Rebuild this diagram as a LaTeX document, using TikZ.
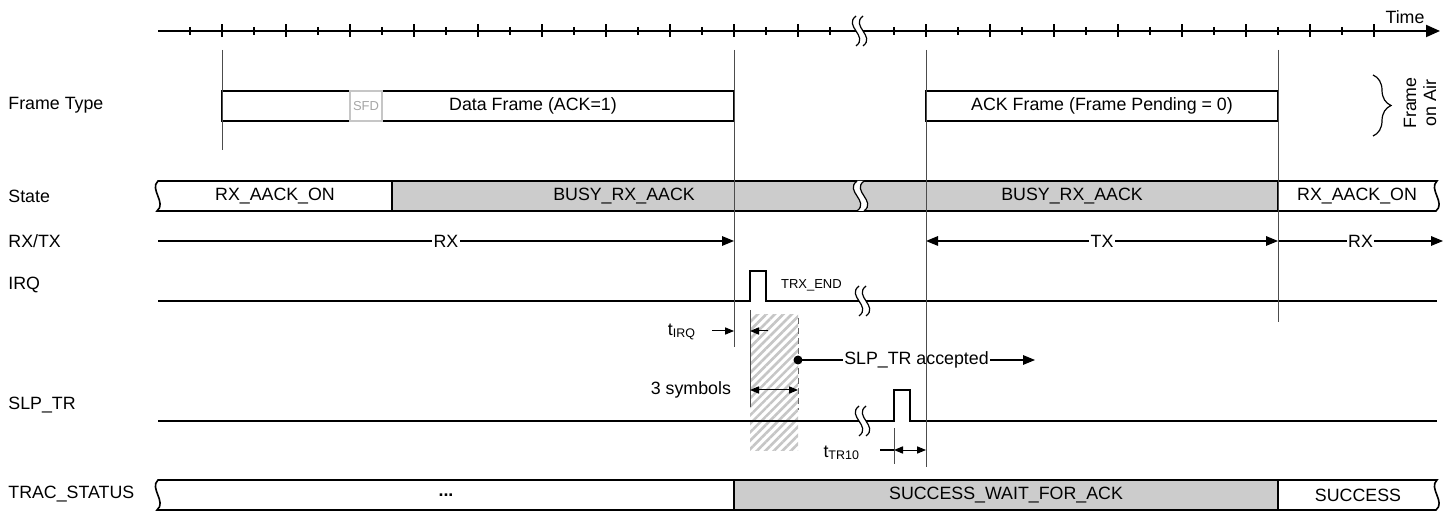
\documentclass[tikz,border=0pt]{standalone}
\usepackage{fontspec}
\setmainfont{Liberation Sans}
\usetikzlibrary{arrows.meta,patterns.meta,decorations.pathreplacing}
\tikzset{
  fnt/.style      = {font=\fontsize{8.9}{10}\selectfont},
  fntsmall/.style = {font=\fontsize{6.5}{7.5}\selectfont},
  rowlabel/.style = {fnt,anchor=west,inner sep=0pt},
  boxline/.style  = {line width=0.8pt},
  graybox/.style  = {boxline,fill=gray!40},
  wire/.style     = {line width=0.6pt},
  marker/.style   = {line width=0.5pt,black!70},
  bigarr/.style   = {-{Triangle[length=6pt,width=4.8pt]},line width=0.6pt},
  dblarr/.style   = {{Triangle[length=6pt,width=4.8pt]}-{Triangle[length=6pt,width=4.8pt]},line width=0.6pt},
  dimarr/.style   = {-{Triangle[length=4.5pt,width=3.6pt]},line width=0.5pt},
  dimdbl/.style   = {{Triangle[length=4.5pt,width=3.6pt]}-{Triangle[length=4.5pt,width=3.6pt]},line width=0.5pt},
  onwire/.style   = {fnt,fill=white,inner sep=0.6pt},
  brk/.pic = {
    \fill[white] (-2,-15) .. controls (-15,-5) and (11,5) .. (-2,15)
      -- (5,15) .. controls (18,5) and (-8,-5) .. (5,-15) -- cycle;
    \draw[line width=0.6pt] (-2,-15) .. controls (-15,-5) and (11,5) .. (-2,15);
    \draw[line width=0.6pt] (5,-15) .. controls (-8,-5) and (18,5) .. (5,15);
  }
}

\begin{document}
\begin{tikzpicture}[x=0.5pt,y=-0.5pt]
  \useasboundingbox (0,0) rectangle (1454,512);

  % time axis
  \draw[line width=1pt,-{Triangle[length=7pt,width=6pt]}] (158,31) -- (1440,31);
  \foreach \x in {190,254,...,830} \draw[line width=0.6pt] (\x,27) -- (\x,35);
  \foreach \x in {222,286,...,798} \draw[line width=0.6pt] (\x,24.5) -- (\x,37.5);
  \foreach \x in {894,958,...,1342} \draw[line width=0.6pt] (\x,27) -- (\x,35);
  \foreach \x in {926,990,...,1374} \draw[line width=0.6pt] (\x,24.5) -- (\x,37.5);
  \pic at (858,31) {brk};
  \node[fnt] (time) at (1405,17) {Time};

  % frame type
  \node[rowlabel] (lftype) at (8,105) {Frame Type};
  \draw[boxline] (222,91) rectangle (734,121);
  \draw[gray!45,line width=0.6pt] (350,91) rectangle (382,121);
  \node[fntsmall,text=gray!70] (sfd) at (366,106) {SFD};
  \node[fnt] (dataframe) at (533,106) {Data Frame (ACK=1)};
  \draw[boxline] (926,91) rectangle (1278,121);
  \node[fnt] (ackframe) at (1102,106) {ACK Frame (Frame Pending = 0)};
  \draw[decorate,decoration={brace,amplitude=9pt},line width=0.6pt] (1373,75) -- (1373,136);
  \node[fnt,rotate=90,align=center] (air) at (1420,103) {Frame\\on Air};

  % state
  \node[rowlabel] (lstate) at (8,196) {State};
  \filldraw[boxline,fill=white] (392,181) -- (158,181)
    .. controls (149,189) and (167,203) .. (157,211) -- (392,211) -- cycle;
  \filldraw[graybox] (392,181) rectangle (1278,211);
  \filldraw[boxline,fill=white] (1278,181) -- (1437,181)
    .. controls (1428,189) and (1446,203) .. (1436,211) -- (1278,211) -- cycle;
  \pic at (859,196) {brk};
  \node[fnt] (st1) at (275,196) {RX\_AACK\_ON};
  \node[fnt] (st2) at (624,196) {BUSY\_RX\_AACK};
  \node[fnt] (st3) at (1072,196) {BUSY\_RX\_AACK};
  \node[fnt] (st4) at (1357,196) {RX\_AACK\_ON};

  % rx/tx
  \node[rowlabel] (lrxtx) at (8,241) {RX/TX};
  \coordinate (rx0) at (158,241);
  \coordinate (rx1) at (734,241);
  \coordinate (tx0) at (926,241);
  \coordinate (tx1) at (1278,241);
  \coordinate (rx2) at (1443,241);
  \draw[bigarr] (rx0) -- node[onwire] (rxlbl) {RX} (rx1);
  \draw[dblarr] (tx0) -- node[onwire] (txlbl) {TX} (tx1);
  \draw[bigarr] (tx1) -- node[onwire] (rxlbl2) {RX} (rx2);

  % irq
  \node[rowlabel] (lirq) at (8,285) {IRQ};
  \draw[wire] (158,301) -- (750,301) -- (750,271) -- (766,271) -- (766,301) -- (1437,301);
  \pic at (861,301) {brk};
  \node[fntsmall,anchor=west] (trxend) at (774,285) {TRX\_END};

  % 3 symbols window
  \fill[pattern={Lines[angle=45,distance=3pt,line width=1.3pt]},pattern color=gray!45]
    (750,315) rectangle (798,450);
  \draw[densely dashed,black!60,line width=0.5pt] (798,318) -- (798,410);
  \draw[marker] (750,310) -- (750,407);
  \node[fnt,anchor=east] (tirq) at (703,332) {t\textsubscript{IRQ}};
  \draw[dimarr] (712,331) -- (734,331);
  \draw[dimarr] (768,331) -- (750,331);
  \coordinate (acc) at (798,360);
  \coordinate (accend) at (1035,360);
  \fill (acc) circle (4.5);
  \draw[bigarr] (acc) -- node[fnt,fill=white,inner sep=0.6pt] (acclbl) {SLP\_TR accepted} (accend);
  \node[fnt,anchor=east] (sym) at (738,390) {3 symbols};
  \draw[dimdbl] (750,390) -- (798,390);

  % slp_tr
  \node[rowlabel] (lslp) at (8,405) {SLP\_TR};
  \draw[wire] (158,421) -- (894,421) -- (894,390) -- (910,390) -- (910,421) -- (1437,421);
  \pic at (861,421) {brk};
  \draw[marker] (894,428) -- (894,464);
  \node[fnt,anchor=east] (ttr) at (867,453) {t\textsubscript{TR10}};
  \draw[wire] (880,450) -- (894,450);
  \draw[dimdbl] (894,450) -- (926,450);

  % trac_status
  \node[rowlabel] (ltrac) at (8,494) {TRAC\_STATUS};
  \filldraw[boxline,fill=white] (734,480) -- (158,480)
    .. controls (149,488) and (167,502) .. (157,510) -- (734,510) -- cycle;
  \filldraw[graybox] (734,480) rectangle (1278,510);
  \filldraw[boxline,fill=white] (1278,480) -- (1437,480)
    .. controls (1428,488) and (1446,502) .. (1436,510) -- (1278,510) -- cycle;
  \node[fnt] (tr1) at (446,495) {\textbf{...}};
  \node[fnt] (tr2) at (1006,495) {SUCCESS\_WAIT\_FOR\_ACK};
  \node[fnt] (tr3) at (1358,495) {SUCCESS};

  % markers
  \draw[marker] (222,50) -- (222,150);
  \draw[marker] (734,50) -- (734,347);
  \draw[marker] (926,50) -- (926,467);
  \draw[marker] (1278,50) -- (1278,322);
\end{tikzpicture}
\end{document}
